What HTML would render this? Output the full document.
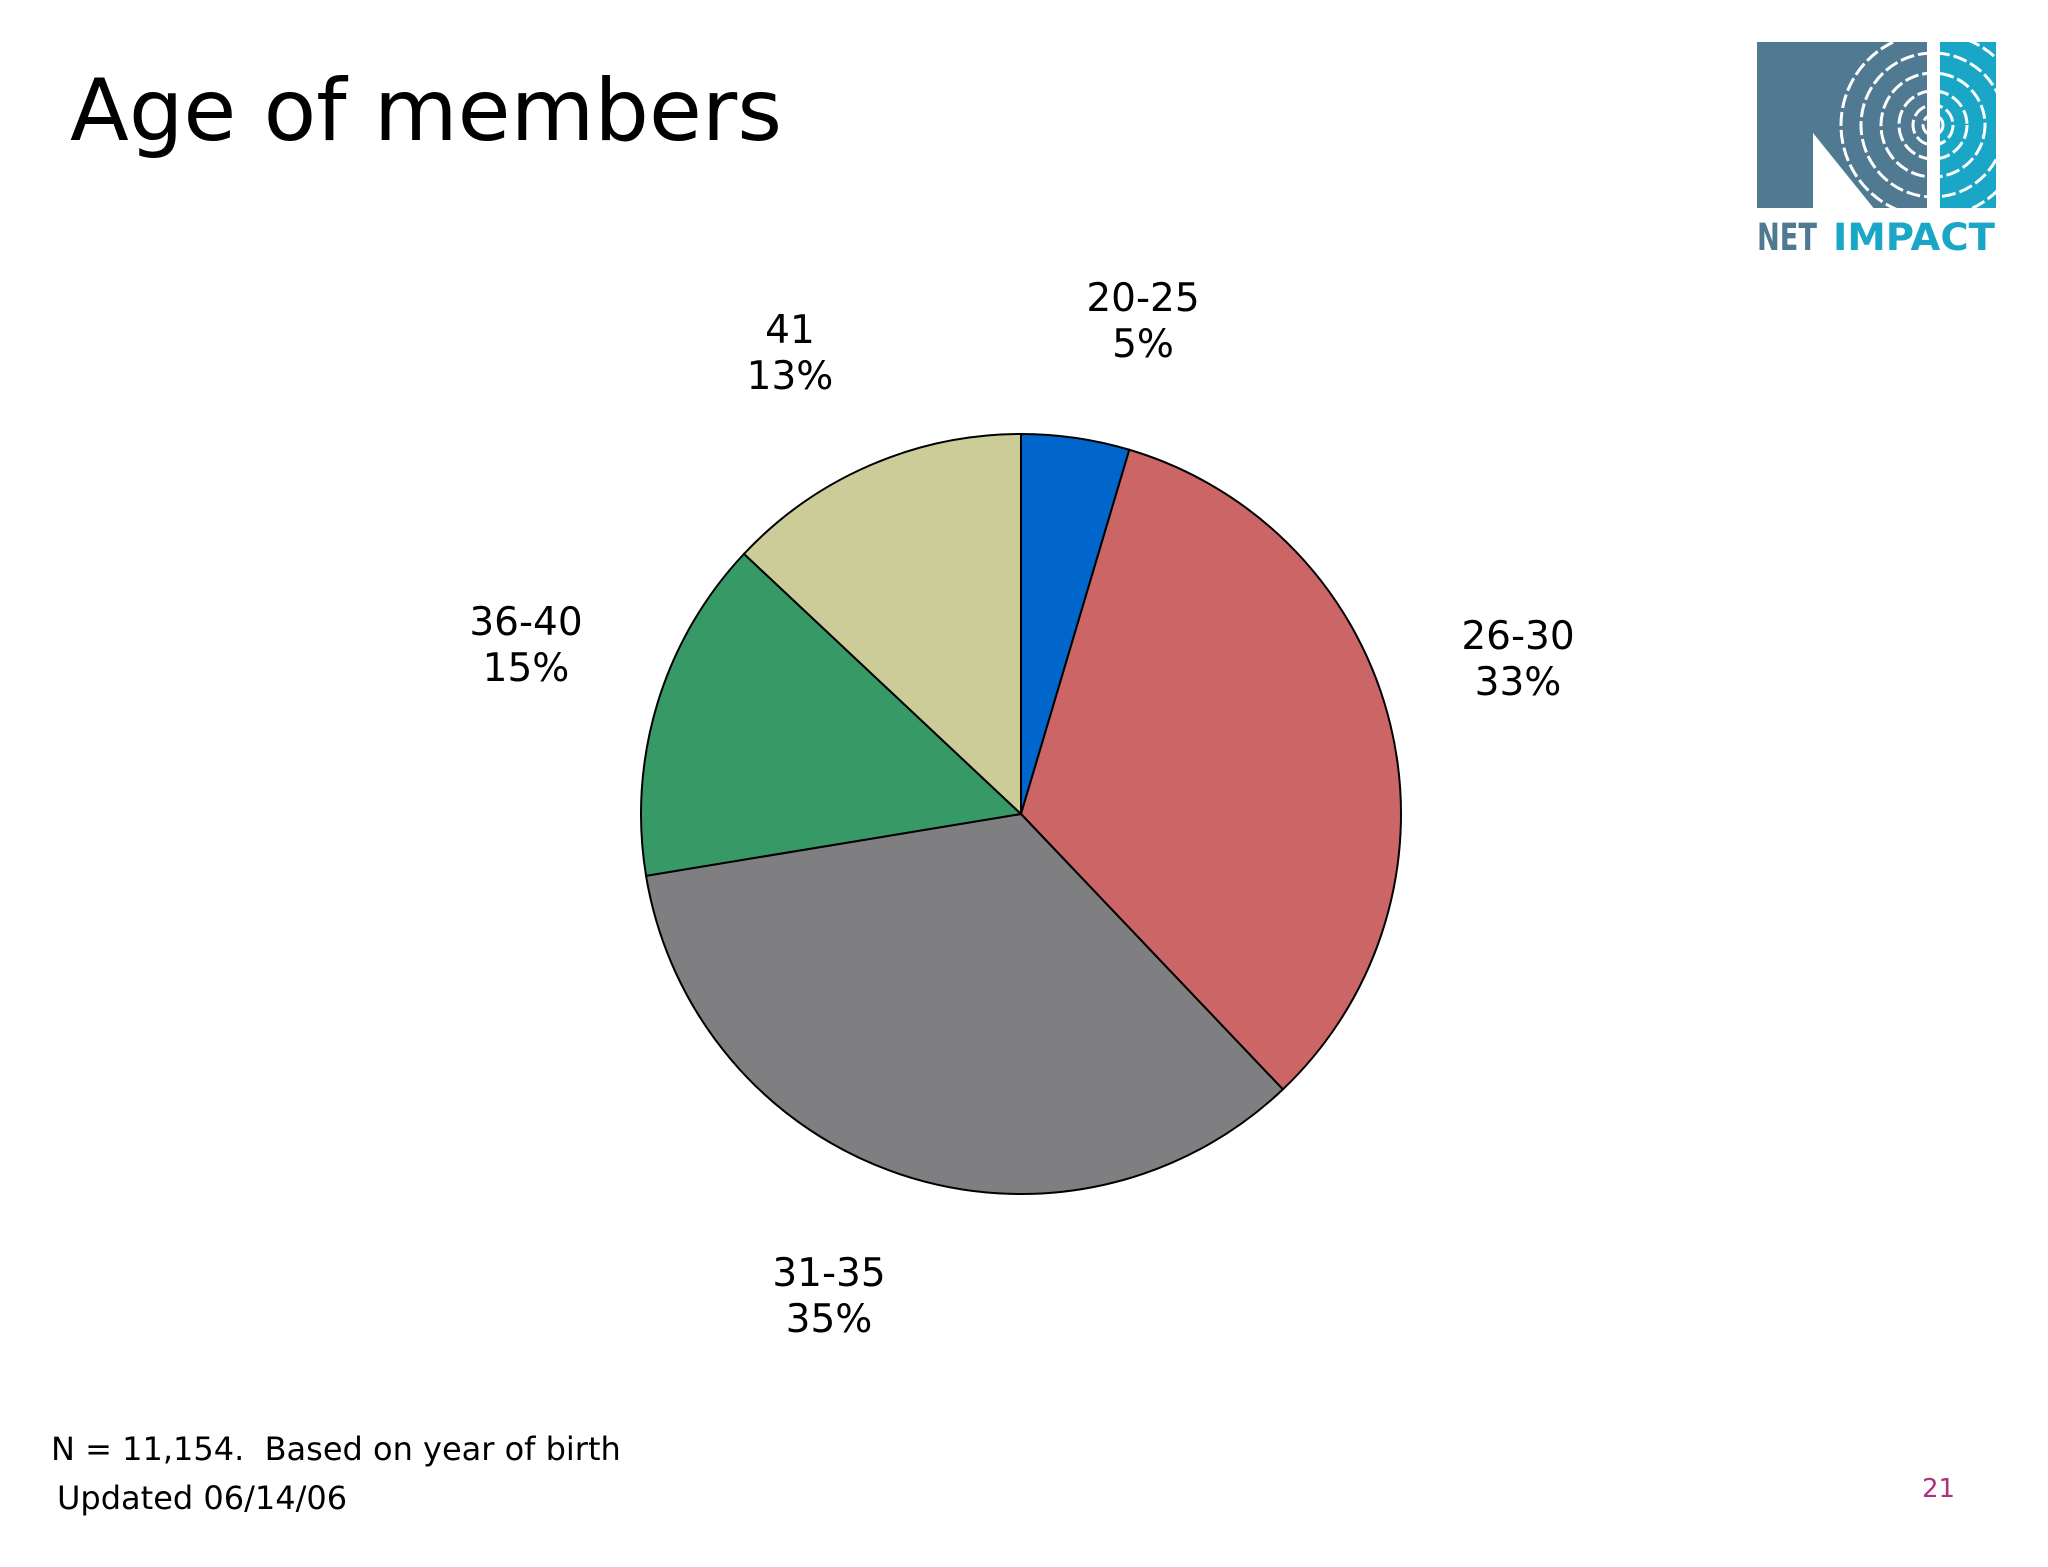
<!DOCTYPE html>
<html><head><meta charset="utf-8"><style>
body{margin:0;background:#fff;}
#c{position:relative;width:2048px;height:1567px;overflow:hidden;font-family:"DejaVu Sans","Liberation Sans",sans-serif;color:#000;}
.t{position:absolute;white-space:nowrap;}
</style></head><body>
<div id="c">
<div class="t" style="left:70px;top:61px;font-size:86px;">Age of members</div>
<svg style="position:absolute;left:1750px;top:36px" width="260" height="222">
 <rect x="7" y="6" width="170" height="166" fill="#4f7a92"/>
 <polygon points="63,97 63,172 123,172" fill="#fff"/>
 <rect x="190" y="6" width="56" height="166" fill="#1aa6c6"/>
 <g fill="none" stroke="#fff" stroke-width="3" stroke-dasharray="14 4">
  <circle cx="183" cy="89" r="10"/><circle cx="183" cy="89" r="20"/><circle cx="183" cy="89" r="34"/><circle cx="183" cy="89" r="52"/><circle cx="183" cy="89" r="72"/><circle cx="183" cy="89" r="92"/>
 </g>
 <polygon points="0,0 63,0 63,97 123,172 0,172" fill="#4f7a92"/>
 <polygon points="63,97 63,180 130,180" fill="#fff"/>
 <rect x="0" y="0" width="7" height="180" fill="#fff"/>
 <rect x="7" y="0" width="240" height="6" fill="#fff"/>
 <rect x="177" y="0" width="13" height="180" fill="#fff"/>
 <rect x="246" y="0" width="14" height="180" fill="#fff"/>
 <text x="7" y="214" font-family="DejaVu Sans" font-weight="bold" font-size="37" fill="#4f7a92" textLength="60" lengthAdjust="spacingAndGlyphs">NET</text>
 <text x="83" y="214" font-family="DejaVu Sans" font-weight="bold" font-size="37" fill="#1aa6c6" textLength="162" lengthAdjust="spacingAndGlyphs">IMPACT</text>
</svg>
<svg id="pie" style="position:absolute;left:0;top:0" width="2048" height="1567"></svg>
<div class="t" style="left:51px;top:1430px;font-size:32px;">N = 11,154.&nbsp; Based on year of birth</div>
<div class="t" style="left:57px;top:1479px;font-size:32px;">Updated 06/14/06</div>
<div class="t" style="left:1922px;top:1474px;font-size:26px;color:#b0307a;">21</div>
</div>
<script>
const categories=["20-25","26-30","31-35","36-40","41"];
const values=[4.6,33.3,34.5,14.6,13.0];
const labels=["5%","33%","35%","15%","13%"];
const colors=["#0066cc","#cc6666","#7f7e80","#379966","#cccc99"];
const labelPos=[[1143,298],[1518,636],[829,1273],[526,622],[790,330]];
const cx=1021,cy=814,r=380;
const svg=document.getElementById('pie');
const NS="http://www.w3.org/2000/svg";
const total=values.reduce((a,b)=>a+b,0);
function pt(a){return [cx+r*Math.sin(a),cy-r*Math.cos(a)];}
let acc=0;
values.forEach((v,i)=>{
 const a0=acc/total*2*Math.PI; acc+=v; const a1=acc/total*2*Math.PI;
 const p0=pt(a0),p1=pt(a1);
 const path=document.createElementNS(NS,'path');
 path.setAttribute('d',`M${cx},${cy}L${p0[0]},${p0[1]}A${r},${r} 0 ${a1-a0>Math.PI?1:0} 1 ${p1[0]},${p1[1]}Z`);
 path.setAttribute('fill',colors[i]);path.setAttribute('stroke','#000');path.setAttribute('stroke-width','2');
 
 
 svg.appendChild(path);
 [[categories[i],0],[labels[i],46]].forEach(([s,dy],k)=>{
  const t=document.createElementNS(NS,'text');
  t.setAttribute('x',labelPos[i][0]);t.setAttribute('y',labelPos[i][1]+dy+13);
  t.setAttribute('text-anchor','middle');t.setAttribute('font-size','39');
  t.setAttribute('font-family','DejaVu Sans, Liberation Sans, sans-serif');
  t.textContent=s;
  
  
  svg.appendChild(t);
 });
});
</script>
</body></html>
